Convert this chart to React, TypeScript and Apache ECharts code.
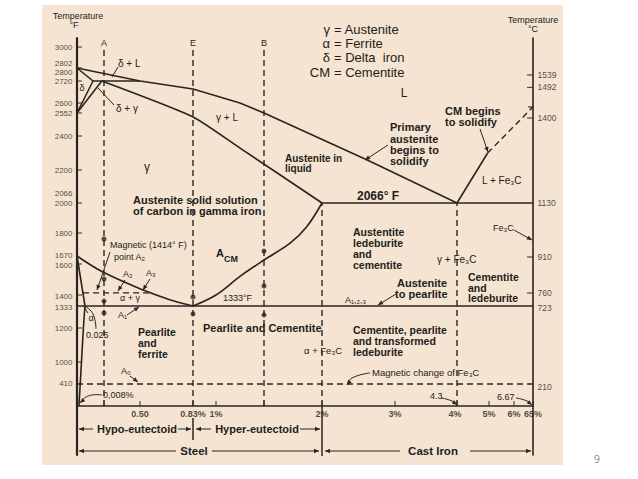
import React, { useEffect, useRef } from "react";
import * as echarts from "echarts";

// ---------------- data: [carbon wt%, temperature °F] ----------------
const liquidus = [[0, 2802], [0.5, 2720], [0.83, 2676], [1.2, 2600], [1.4, 2552], [2.62, 2259], [4.3, 2066]];
const deltaSolidus = [[0, 2802], [0.1, 2720]];
const peritectic = [[0.1, 2720], [0.5, 2720]];
const deltaSolvus = [[0, 2552], [0.1, 2720]];
const gammaDeltaLine = [[0, 2552], [0.18, 2720]];
const gammaSolidus = [[0.18, 2720], [0.83, 2526], [1.2, 2329], [2.0, 2066]];
const eutectic = [[2.0, 2066], [6.67, 2066]];
const acmLine = [[0.83, 1333], [1.0, 1400], [1.2, 1520], [1.4, 1635], [1.67, 1743], [1.84, 1853], [2.0, 2066]];
const a3Line = [[0, 1670], [0.19, 1548], [0.52, 1432], [0.69, 1370], [0.83, 1333]];
const ferriteSolvus = [[0, 1670], [0.025, 1333]];
const ferriteSolubility = [[0.025, 1333], [0.02, 1200], [0.012, 700], [0.006, 0]];
const a1Line = [[0, 1333], [6.67, 1333]];
const cementiteLiquidus = [[4.3, 2066], [4.97, 2300]];
const cementiteLiquidusDashed = [[4.97, 2300], [6.67, 2581]];
const cementiteTop = [[6.5, 2581], [6.67, 2581]];
const a2Line = [[0.019, 1414], [0.57, 1414]];
const a0Line = [[0, 410], [6.67, 410]];
const sampleA = 0.2;
const sampleE = 0.83;
const sampleB = 1.4;
const sampleTop = 2990;
const dotsA = [1766, 1503, 1363, 1291];
const dotsE = [1388, 1285];
const dotsB = [1698, 1458, 1279];
const fahrenheitLabels = [3000, 2802, 2800, 2720, 2600, 2552, 2400, 2200, 2066, 2000, 1800, 1670, 1600, 1400, 1333, 1200, 1000, 410];
const fahrenheitTicks = [3000, 2802, 2720, 2600, 2552, 2400, 2200, 2066, 1800, 1600, 1400, 1200, 1000];
const celsiusLabels = [1539, 1492, 1400, 1130, 910, 760, 723, 210];
const celsiusTicks = [1539, 1492, 1400, 910, 760];
const carbonLabelValues = [0.5, 0.83, 1, 2, 3, 4, 5, 6, 6.67];
const carbonLabelTexts = ["0.50", "0.83%", "1%", "2%", "3%", "4%", "5%", "6%", "65%"];
const carbonTicks = [0.2, 0.5, 0.83, 1, 1.4, 2, 3, 4.3, 5, 6, 6.67];

// ---------------- non-linear diagram scales ----------------
const CARBON_KNOTS = [0, 0.025, 0.1, 0.2, 0.5, 0.83, 1, 1.4, 2, 3, 4, 4.3, 5, 6, 6.67];
const CARBON_UNITS = [0, 8, 16, 27, 63, 116, 139, 187, 245, 318, 378, 380, 412, 437, 456];
const TEMP_KNOTS = [0, 410, 1000, 1200, 1333, 1400, 1600, 1670, 1800, 2066, 2200, 2400, 2552, 2600, 2720, 2802, 3000];
const TEMP_UNITS = [0, 22, 44, 78, 100, 111, 142, 150, 173, 203, 236, 270, 293, 303, 325, 338, 359];
const F_NUDGE: Record<number, number> = { 2802: -4.5, 2800: 3.7, 2720: 0.5, 2066: -9.8, 2000: -7.2, 1670: -1, 1600: 1.5, 1400: 1, 1333: 1, 410: -1 };
const C_NUDGE: Record<number, number> = { 1539: 7, 1492: 6, 1400: 5, 910: 1, 760: -2, 723: 2, 210: 3 };

function interp(v: number, xs: number[], ys: number[]) {
  if (v <= xs[0]) return ys[0];
  for (let i = 1; i < xs.length; i++) {
    if (v <= xs[i]) return ys[i - 1] + ((v - xs[i - 1]) / (xs[i] - xs[i - 1])) * (ys[i] - ys[i - 1]);
  }
  return ys[ys.length - 1];
}
const wx = (c: number) => interp(c, CARBON_KNOTS, CARBON_UNITS);
const wy = (t: number) => interp(t, TEMP_KNOTS, TEMP_UNITS);
const cToF = (c: number) => (c * 9) / 5 + 32;
const P = (pts: number[][]) => pts.map(([c, t]) => [wx(c), wy(t)]);

const INK = "#2a2420";
const TEXT = "#231d1a";
const FONT = "'Liberation Sans', Arial, Helvetica, sans-serif";
const G_LEFT = 77;
const G_TOP = 38;
const G_BOTTOM = 24;
const Y_MIN = -49;
const Y_MAX = 368;
const px = (c: number) => G_LEFT + wx(c);

function lineSeries(name: string, pts: number[][], dashed = false, smooth: number | boolean = false, width = 1.6) {
  return {
    type: "line",
    name,
    data: P(pts),
    symbol: "none",
    showSymbol: false,
    smooth,
    silent: true,
    clip: false,
    z: 3,
    lineStyle: { color: INK, width: dashed ? 1.4 : width, type: dashed ? [6, 4] : "solid" },
  };
}

function txt(text: string, x: number, y: number, size: number, o: any = {}) {
  const align = o.align || "left";
  return {
    type: "text",
    x,
    y,
    z: 10,
    silent: true,
    style: {
      text,
      fontSize: size,
      fontFamily: o.family || FONT,
      fontWeight: o.bold ? "bold" : "normal",
      fill: o.color || TEXT,
      align,
      textAlign: align,
      verticalAlign: "middle",
      textVerticalAlign: "middle",
    },
  };
}

function leader(points: number[][], head = true, smooth = 0) {
  const els: any[] = [
    { type: "polyline", z: 10, silent: true, shape: { points, smooth }, style: { stroke: INK, lineWidth: 1, fill: null } },
  ];
  if (head) {
    const [x2, y2] = points[points.length - 1];
    const [x1, y1] = points[points.length - 2];
    const a = Math.atan2(y2 - y1, x2 - x1);
    const L = 5, W = 2.2;
    const bx = x2 - L * Math.cos(a), by = y2 - L * Math.sin(a);
    els.push({
      type: "polygon",
      z: 10,
      silent: true,
      shape: { points: [[x2, y2], [bx - W * Math.sin(a), by + W * Math.cos(a)], [bx + W * Math.sin(a), by - W * Math.cos(a)]] },
      style: { fill: INK },
    });
  }
  return els;
}

function vline(x: number, y1: number, y2: number, w = 1.5) {
  return { type: "line", z: 10, silent: true, shape: { x1: x, y1, x2: x, y2 }, style: { stroke: INK, lineWidth: w } };
}

function buildOption() {
  const series: any[] = [
    lineSeries("liquidus", liquidus),
    lineSeries("deltaSolidus", deltaSolidus),
    lineSeries("peritectic", peritectic),
    lineSeries("deltaSolvus", deltaSolvus),
    lineSeries("gammaDelta", gammaDeltaLine),
    lineSeries("gammaSolidus", gammaSolidus, false, 0.2),
    lineSeries("eutectic", eutectic),
    lineSeries("Acm", acmLine, false, 0.35),
    lineSeries("A3", a3Line, false, 0.35),
    lineSeries("ferriteSolvus", ferriteSolvus),
    lineSeries("ferriteSolubility", ferriteSolubility, false, 0.3),
    lineSeries("A1", a1Line),
    lineSeries("cementiteLiquidus", cementiteLiquidus),
    lineSeries("cementiteLiquidusDashed", cementiteLiquidusDashed, true),
    lineSeries("cementiteTop", cementiteTop, false, false, 1.2),
    lineSeries("A2", a2Line, true),
    lineSeries("A0", a0Line, true),
    lineSeries("sampleA", [[sampleA, 0], [sampleA, sampleTop]], true),
    lineSeries("sampleE", [[sampleE, 0], [sampleE, sampleTop]], true),
    lineSeries("sampleB", [[sampleB, 0], [sampleB, sampleTop]], true),
    lineSeries("solubility2", [[2, 0], [2, 2066]], true),
    lineSeries("eutecticV", [[4.3, 0], [4.3, 2066]], true),
    {
      type: "scatter",
      name: "dots",
      symbolSize: 5,
      silent: true,
      z: 4,
      itemStyle: { color: INK },
      data: [
        ...dotsA.map((t) => [wx(sampleA), wy(t)]),
        ...dotsE.map((t) => [wx(sampleE), wy(t)]),
        ...dotsB.map((t) => [wx(sampleB), wy(t)]),
      ],
    },
    // left ticks
    {
      type: "scatter",
      symbol: "rect",
      symbolSize: [5, 1.2],
      symbolOffset: [2.5, 0],
      silent: true,
      z: 4,
      itemStyle: { color: INK },
      data: fahrenheitTicks.map((t) => [0, wy(t)]),
    },
    // left labels
    {
      type: "scatter",
      symbolSize: 1,
      silent: true,
      z: 5,
      itemStyle: { color: "transparent" },
      label: { show: true, position: "left", distance: 4, formatter: "{b}", color: TEXT, fontSize: 8, fontFamily: FONT },
      data: fahrenheitLabels.map((t) => ({ name: String(t), value: [0, wy(t)], label: { offset: [0, F_NUDGE[t] || 0] } })),
    },
    // right ticks + labels
    {
      type: "scatter",
      symbol: "rect",
      symbolSize: [6, 1.2],
      silent: true,
      z: 4,
      itemStyle: { color: INK },
      data: celsiusTicks.map((c) => ({ value: [456, wy(cToF(c))], symbolOffset: [-3, C_NUDGE[c] || 0] })),
    },
    {
      type: "scatter",
      symbolSize: 1,
      silent: true,
      z: 5,
      itemStyle: { color: "transparent" },
      label: { show: true, position: "right", distance: 4, formatter: "{b}", color: TEXT, fontSize: 8.5, fontFamily: FONT },
      data: celsiusLabels.map((c) => ({ name: String(c), value: [456, wy(cToF(c))], label: { offset: [0, C_NUDGE[c] || 0] } })),
    },
    // bottom ticks + labels
    {
      type: "scatter",
      symbol: "rect",
      symbolSize: [1.2, 5],
      symbolOffset: [0, -2.5],
      silent: true,
      z: 4,
      itemStyle: { color: INK },
      data: carbonTicks.map((c) => [wx(c), 0]),
    },
    {
      type: "scatter",
      symbolSize: 1,
      silent: true,
      z: 5,
      itemStyle: { color: "transparent" },
      label: { show: true, position: "bottom", distance: 3, formatter: "{b}", color: TEXT, fontSize: 9, fontWeight: "bold", fontFamily: FONT },
      data: carbonLabelValues.map((c, i) => ({ name: carbonLabelTexts[i], value: [wx(c), 0] })),
    },
  ];

  const g: any[] = [
    { type: "rect", z: -100, silent: true, shape: { x: 42, y: 5, width: 521, height: 460 }, style: { fill: "#f4e4d1" } },
    txt("9", 597, 458, 11, { color: "#8f8f8f", family: "'Open Sans', sans-serif", align: "center" }),
    // headers
    txt("Temperature", 78, 16, 9, { align: "center", family: "'Liberation Sans Narrow', " + FONT }),
    txt("°F", 74, 25, 9, { align: "center" }),
    txt("Temperature", 533, 20, 9, { align: "center", family: "'Liberation Sans Narrow', " + FONT }),
    txt("°C", 533, 29, 9, { align: "center" }),
    // legend
    txt("γ", 330, 29, 13, { align: "right" }),
    txt("= Austenite", 334, 29, 13),
    txt("α", 330, 43, 13, { align: "right" }),
    txt("= Ferrite", 334, 43, 13),
    txt("δ", 330, 57, 13, { align: "right" }),
    txt("= Delta  iron", 334, 57, 13),
    txt("CM", 330, 72, 13, { align: "right" }),
    txt("= Cementite", 334, 72, 13),
    // sample line letters
    txt("A", px(sampleA), 43, 9, { align: "center" }),
    txt("E", px(sampleE), 43, 9, { align: "center" }),
    txt("B", px(sampleB), 43, 9, { align: "center" }),
    // upper-left
    txt("δ + L", 118, 63, 10),
    txt("δ", 82, 88, 9, { align: "center" }),
    txt("δ + γ", 116, 108, 10),
    txt("γ + L", 216, 117, 10),
    txt("γ", 147, 167, 12, { align: "center" }),
    txt("L", 404, 93, 12, { align: "center" }),
    txt("Austenite in", 285, 158, 10, { bold: true }),
    txt("liquid", 285, 168, 10, { bold: true }),
    txt("Primary", 390, 127, 11, { bold: true }),
    txt("austenite", 390, 139, 11, { bold: true }),
    txt("begins to", 390, 150, 11, { bold: true }),
    txt("solidify", 390, 161, 11, { bold: true }),
    txt("2066° F", 357, 196, 12, { bold: true }),
    txt("Austenite solid solution", 133, 200, 11, { bold: true }),
    txt("of carbon in gamma iron", 133, 211, 11, { bold: true }),
    txt("CM begins", 445, 111, 11, { bold: true }),
    txt("to solidify", 445, 122, 11, { bold: true }),
    txt("L + Fe₃C", 482, 180, 10),
    txt("Fe₃C", 493, 228, 9),
    // mid
    txt("Magnetic (1414° F)", 110, 245, 9),
    txt("point A₂", 114, 257, 9),
    txt("A", 216, 253, 11, { bold: true }),
    txt("CM", 224, 259, 9, { bold: true }),
    txt("Austentite", 353, 232, 10.5, { bold: true }),
    txt("ledeburite", 353, 243, 10.5, { bold: true }),
    txt("and", 353, 254, 10.5, { bold: true }),
    txt("cementite", 353, 265, 10.5, { bold: true }),
    txt("γ + Fe₃C", 437, 259, 10),
    txt("Cementite", 468, 277, 10.5, { bold: true }),
    txt("and", 468, 287.5, 10.5, { bold: true }),
    txt("ledeburite", 468, 298, 10.5, { bold: true }),
    txt("Austenite", 397, 283, 11, { bold: true }),
    txt("to pearlite", 395, 294, 11, { bold: true }),
    txt("A₁,₂,₃", 345, 300, 9),
    txt("1333°F", 223, 298, 9),
    txt("A₂", 123, 274, 9),
    txt("A₃", 146, 273, 9),
    txt("α + γ", 120, 298, 9),
    txt("A₁", 118, 315, 9),
    txt("α", 91, 318, 9, { align: "center" }),
    txt("0.025", 86, 335, 9),
    txt("Pearlite", 138, 332, 10.5, { bold: true }),
    txt("and", 138, 343, 10.5, { bold: true }),
    txt("ferrite", 138, 354, 10.5, { bold: true }),
    txt("A₀", 121, 371, 9),
    txt("0,008%", 103, 395, 9),
    txt("Pearlite and Cementite", 203, 328, 11, { bold: true }),
    txt("α + Fe₃C", 304, 350, 9.5),
    txt("Cementite, pearlite", 353, 330, 10.5, { bold: true }),
    txt("and transformed", 353, 341, 10.5, { bold: true }),
    txt("ledeburite", 353, 352, 10.5, { bold: true }),
    txt("Magnetic change of Fe₃C", 372, 372, 9.5),
    txt("4.3", 430, 396, 9),
    txt("6.67", 497, 397, 9),
    // brackets
    txt("Hypo-eutectoid", 137, 429, 11, { bold: true, align: "center" }),
    txt("Hyper-eutectoid", 257, 429, 11, { bold: true, align: "center" }),
    txt("Steel", 194, 451, 11.5, { bold: true, align: "center" }),
    txt("Cast Iron", 433, 451, 11.5, { bold: true, align: "center" }),
    vline(px(0.83), 418, 440),
    vline(px(2), 406, 456),
    ...leader([[93, 429], [79, 429]]),
    ...leader([[178, 429], [191, 429]]),
    ...leader([[211, 429], [196, 429]]),
    ...leader([[300, 429], [320, 429]]),
    ...leader([[176, 451], [79, 451]]),
    ...leader([[212, 451], [319, 451]]),
    ...leader([[400, 451], [325, 451]]),
    ...leader([[470, 451], [531, 451]]),
    // leaders
    ...leader([[118, 67], [112, 77]], false),
    ...leader([[114, 105], [98, 88]], false),
    ...leader([[110, 252], [97, 290]]),
    ...leader([[125, 280], [118, 291]]),
    ...leader([[150, 279], [143, 290]]),
    ...leader([[88, 313], [84, 307]], false),
    ...leader([[127, 315], [139, 307]]),
    ...leader([[96, 329], [93, 314], [86, 307]], false, 0.5),
    ...leader([[130, 376], [138, 382]]),
    ...leader([[102, 395], [88, 396], [80, 403]], true, 0.5),
    ...leader([[388, 145], [365, 160]]),
    ...leader([[480, 129], [488, 152]]),
    ...leader([[514, 230], [532, 240]]),
    ...leader([[396, 294], [378, 305]]),
    ...leader([[370, 373], [352, 378], [347, 385]], true, 0.5),
    ...leader([[441, 398], [452, 401], [457, 405]], true, 0.5),
    ...leader([[516, 398], [527, 401], [532, 405]], true, 0.5),
  ];

  return {
    animation: false,
    backgroundColor: "#ffffff",
    grid: { left: G_LEFT, right: 638 - 533, top: G_TOP, bottom: G_BOTTOM, containLabel: false },
    xAxis: {
      type: "value",
      min: 0,
      max: 456,
      axisLine: { show: true, onZero: true, lineStyle: { color: INK, width: 1.6 } },
      axisTick: { show: false },
      axisLabel: { show: false },
      splitLine: { show: false },
    },
    yAxis: [
      {
        type: "value",
        min: Y_MIN,
        max: Y_MAX,
        position: "left",
        axisLine: { show: true, onZero: false, lineStyle: { color: INK, width: 2.2 } },
        axisTick: { show: false },
        axisLabel: { show: false },
        splitLine: { show: false },
      },
      {
        type: "value",
        min: Y_MIN,
        max: Y_MAX,
        position: "right",
        axisLine: { show: true, onZero: false, lineStyle: { color: INK, width: 1.6 } },
        axisTick: { show: false },
        axisLabel: { show: false },
        splitLine: { show: false },
      },
    ],
    series,
    graphic: { elements: g },
  };
}

export default function App() {
  const ref = useRef<HTMLDivElement>(null);
  useEffect(() => {
    if (!ref.current) return;
    const chart = echarts.init(ref.current, undefined, { renderer: "svg" });
    chart.setOption(buildOption() as any);
    return () => chart.dispose();
  }, []);
  return <div ref={ref} style={{ position: "fixed", left: 0, top: 0, width: 638, height: 479 }} />;
}
